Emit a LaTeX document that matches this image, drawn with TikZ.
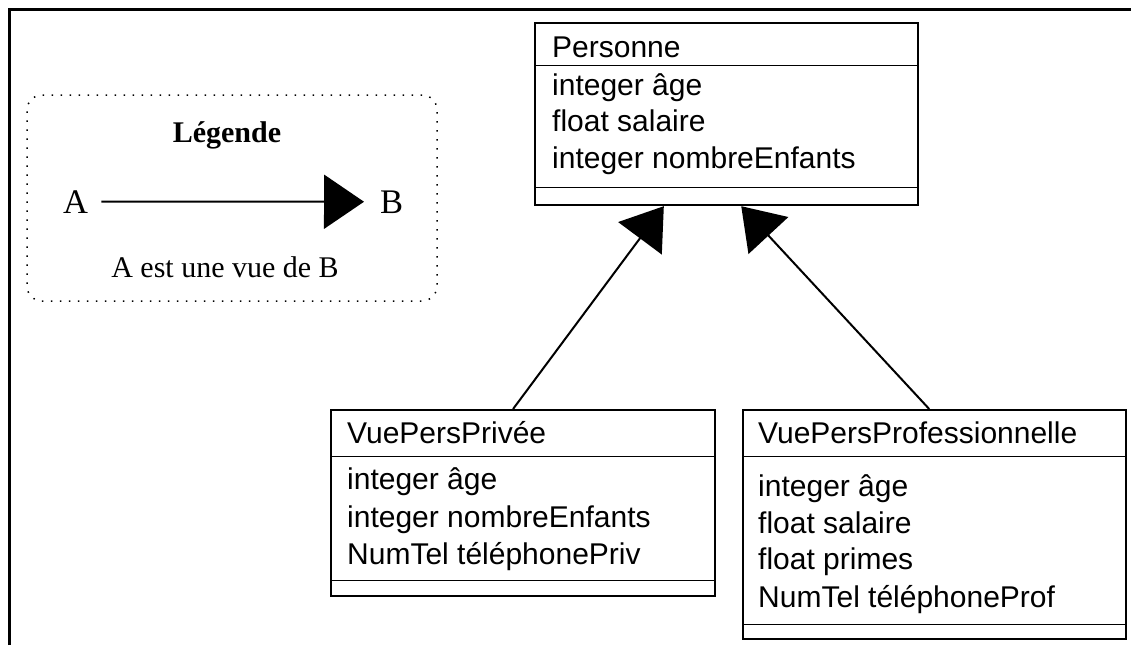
\documentclass[tikz,border=0pt]{standalone}
\usepackage{fontspec}
\setmainfont{Liberation Serif}
\newfontfamily\arialfont{Liberation Sans}
\usetikzlibrary{arrows.meta,calc}
\tikzset{
  umlbox/.style={draw, line width=2.2pt, anchor=north west, inner sep=0pt},
  sepline/.style={line width=1pt},
  attr/.style={anchor=base west, inner sep=0pt, font=\arialfont\fontsize{30}{36}\selectfont},
  viewarrow/.style={line width=2pt, -{Triangle[length=40pt,width=54pt]}},
  legendbox/.style={draw, line width=1.5pt, dash pattern=on 1.5pt off 7.5pt, rounded corners=15pt, inner sep=0pt},
  legtitle/.style={anchor=base, inner sep=0pt, font=\bfseries\fontsize{30}{36}\selectfont},
  letter/.style={anchor=base west, inner sep=0pt, font=\fontsize{34.5}{40}\selectfont},
  legcaption/.style={anchor=base, inner sep=0pt, font=\fontsize{30}{36}\selectfont},
  frame/.style={line width=3pt}
}
\begin{document}
\begin{tikzpicture}[x=1pt,y=-1pt]
\useasboundingbox (0,0) rectangle (1131,645);
% outer frame (partial)
\draw[frame] (9,645) -- (9,9) -- (1131,9);

% legend
\node[legendbox, minimum width=410pt, minimum height=206pt] (legend) at (232,198) {};
\node[legtitle] (legt) at (227,142) {Légende};
\node[letter] (la) at (63,213) {A};
\node[letter] (lb) at (380,213) {B};
\draw[viewarrow, shorten <=13pt, shorten >=16pt] (la.east) -- (lb.west);
\node[legcaption] (legc) at (225,277) {A est une vue de B};

% Personne
\node[umlbox, minimum width=383pt, minimum height=182pt] (pers) at (534,22) {};
\draw[sepline] ($(pers.north west)+(0,43)$) -- ($(pers.north east)+(0,43)$);
\draw[sepline] ($(pers.north west)+(0,165)$) -- ($(pers.north east)+(0,165)$);
\node[attr] (p0) at (552,57) {Personne};
\node[attr] (p1) at (552,95) {integer âge};
\node[attr] (p2) at (552,131.5) {float salaire};
\node[attr] (p3) at (552,168) {integer nombreEnfants};

% VuePersPrivée
\node[umlbox, minimum width=384pt, minimum height=186pt] (priv) at (330,409) {};
\draw[sepline] ($(priv.north west)+(0,47)$) -- ($(priv.north east)+(0,47)$);
\draw[sepline] ($(priv.north west)+(0,171)$) -- ($(priv.north east)+(0,171)$);
\node[attr] (v0) at (347,443) {VuePersPrivée};
\node[attr] (v1) at (347,489) {integer âge};
\node[attr] (v2) at (347,527) {integer nombreEnfants};
\node[attr] (v3) at (347,564.5) {NumTel téléphonePriv};

% VuePersProfessionnelle
\node[umlbox, minimum width=383pt, minimum height=229pt] (pro) at (742,409) {};
\draw[sepline] ($(pro.north west)+(0,47)$) -- ($(pro.north east)+(0,47)$);
\draw[sepline] ($(pro.north west)+(0,215)$) -- ($(pro.north east)+(0,215)$);
\node[attr] (w0) at (758,443) {VuePersProfessionnelle};
\node[attr] (w1) at (758,496) {integer âge};
\node[attr] (w2) at (758,533) {float salaire};
\node[attr] (w3) at (758,569.5) {float primes};
\node[attr] (w4) at (758,607) {NumTel téléphoneProf};

% view arrows
\draw[viewarrow] ($(priv.north west)!0.474!(priv.north east)$) -- ($(pers.south west)!0.337!(pers.south east)$);
\draw[viewarrow] ($(pro.north west)!0.486!(pro.north east)$) -- ($(pers.south west)!0.538!(pers.south east)$);
\end{tikzpicture}
\end{document}
